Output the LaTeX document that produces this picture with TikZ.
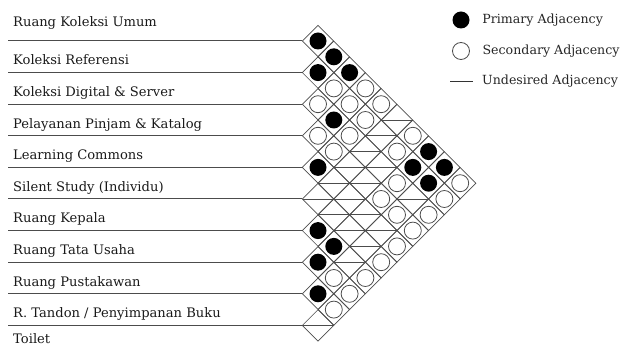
\documentclass[tikz,border=0pt]{standalone}
\usepackage{fontspec}
\setmainfont{DejaVu Serif}
\usetikzlibrary{positioning,shapes.geometric}

\begin{document}
\begin{tikzpicture}[
    x=1pt,y=-1pt,
    cell/.style={diamond,draw=black!70,line width=0.7pt,inner sep=0pt,minimum width=31.6pt,minimum height=31.6pt},
    pa/.style={path picture={\fill[black] (path picture bounding box.center) circle (8.5pt);}},
    sa/.style={path picture={\draw[black!70,line width=0.8pt] (path picture bounding box.center) circle (8.5pt);}},
    ua/.style={path picture={\draw[black!70,line width=0.8pt] (path picture bounding box.west) -- (path picture bounding box.east);}},
    room/.style={anchor=base west,inner sep=0pt,font=\fontsize{13.1}{15}\selectfont,text=black!90},
    sep/.style={draw=black!70,line width=1pt},
    key/.style={inner sep=0pt,font=\fontsize{12.6}{14}\selectfont,text=black!85}
  ]
    \useasboundingbox (0,0) rectangle (630,347);
    \node[room] (umum) at (13,26.5) {Ruang Koleksi Umum};
    \node[room] (referensi) at (13,64.9) {Koleksi Referensi};
    \node[room] (digital) at (13,96.5) {Koleksi Digital \& Server};
    \node[room] (pelayanan) at (13,128.1) {Pelayanan Pinjam \& Katalog};
    \node[room] (commons) at (13,159.7) {Learning Commons};
    \node[room] (silent) at (13,191.3) {Silent Study (Individu)};
    \node[room] (kepala) at (13,222.9) {Ruang Kepala};
    \node[room] (tatausaha) at (13,254.5) {Ruang Tata Usaha};
    \node[room] (pustakawan) at (13,286.1) {Ruang Pustakawan};
    \node[room] (tandon) at (13,317.7) {R. Tandon / Penyimpanan Buku};
    \node[room] (toilet) at (13,343.5) {Toilet};
    % adjacency cells, one row per room
    \foreach \row [count=\i] in {
        {pa,pa,pa,sa,sa,ua,sa,pa,pa,sa},
        {pa,sa,sa,sa,ua,sa,pa,pa,sa},
        {sa,pa,sa,ua,ua,sa,ua,sa},
        {sa,sa,ua,ua,sa,sa,sa},
        {pa,ua,ua,ua,ua,sa},
        {ua,ua,ua,ua,sa},
        {pa,pa,ua,sa},
        {pa,sa,sa},
        {pa,sa},
        {ua}}
      \foreach \t [count=\c] in \row
        \node[cell,\t] (c\i-\c) at ({318+(\c-1)*15.8},{41+(\i-1)*31.6+(\c-1)*15.8}) {};
    \foreach \i in {1,...,10} {
      \coordinate (l\i) at (8,{41+(\i-1)*31.6});
      \draw[sep] (l\i) -- (c\i-1.west);
    }
    % legend
    \node[circle,fill=black,minimum size=17pt,inner sep=0pt] (kp) at (461,20) {};
    \node[key,right=12.5pt of kp] (kpt) {Primary Adjacency};
    \node[circle,draw=black!70,line width=0.8pt,minimum size=17pt,inner sep=0pt] (ks) at (461,51) {};
    \node[key,right=12.5pt of ks] (kst) {Secondary Adjacency};
    \coordinate (ku1) at (450,81);
    \coordinate (ku2) at (473,81);
    \draw[black!80,line width=0.8pt] (ku1) -- (ku2);
    \node[key,right=9pt of ku2] (kut) {Undesired Adjacency};
\end{tikzpicture}
\end{document}
